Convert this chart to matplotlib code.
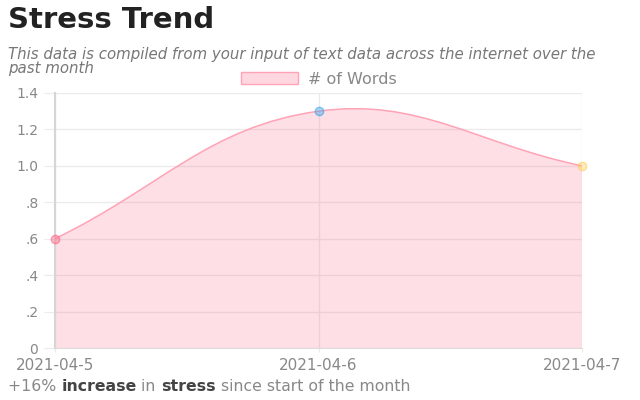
import numpy as np
import matplotlib
matplotlib.use("Agg")
import matplotlib.pyplot as plt
from matplotlib.path import Path
from matplotlib.patches import PathPatch, Patch
from matplotlib.colors import to_rgba

# chart data
dates = ["2021-04-5", "2021-04-6", "2021-04-7"]
words = [0.6, 1.3, 1.0]
point_colors = ["#ff6384", "#36a2eb", "#ffce56"]
y_ticks = [0, 0.2, 0.4, 0.6, 0.8, 1.0, 1.2, 1.4]
y_tick_labels = ["0", ".2", ".4", ".6", ".8", "1.0", "1.2", "1.4"]

title = "Stress Trend"
subtitle_lines = ["This data is compiled from your input of text data across the internet over the",
                  "past month"]
footer_parts = [("+16% ", "normal"), ("increase", "bold"), (" in ", "normal"),
                ("stress", "bold"), (" since start of the month", "normal")]

plt.rcParams["font.family"] = ["DejaVu Sans"]

fig = plt.figure(figsize=(6.4, 4.0), dpi=100)
ax = fig.add_axes([55 / 640, 52 / 400, 527 / 640, 255 / 400])

x = np.arange(len(words))
ax.set_xlim(0, len(words) - 1)
ax.set_ylim(0, 1.4)


def spline_controls(pts, tension=0.4):
    """Chart.js style cubic control points, computed in pixel space."""
    ctrl = []
    n = len(pts)
    for i in range(n):
        prev = pts[max(i - 1, 0)]
        cur = pts[i]
        nxt = pts[min(i + 1, n - 1)]
        d01 = np.hypot(*(cur - prev))
        d12 = np.hypot(*(nxt - cur))
        tot = d01 + d12
        s01 = d01 / tot if tot else 0
        s12 = d12 / tot if tot else 0
        ctrl.append((cur - tension * s01 * (nxt - prev),
                     cur + tension * s12 * (nxt - prev)))
    return ctrl


fig.canvas.draw()
pts_px = ax.transData.transform(np.column_stack([x, words]))
ctrl = spline_controls(pts_px)

verts = [pts_px[0]]
codes = [Path.MOVETO]
for i in range(len(pts_px) - 1):
    verts += [ctrl[i][1], ctrl[i + 1][0], pts_px[i + 1]]
    codes += [Path.CURVE4] * 3
verts_data = ax.transData.inverted().transform(np.array(verts))

line_path = Path(verts_data, codes)
fill_verts = list(verts_data) + [(x[-1], 0), (x[0], 0), verts_data[0]]
fill_codes = codes + [Path.LINETO, Path.LINETO, Path.CLOSEPOLY]
fill_path = Path(fill_verts, fill_codes)

ax.add_patch(PathPatch(fill_path, facecolor=(1, 99 / 255, 132 / 255, 0.2),
                       edgecolor="none", zorder=2))
ax.add_patch(PathPatch(line_path, facecolor="none", edgecolor="#ffa3b6",
                       linewidth=1.1, zorder=3))

for xi, yi, c in zip(x, words, point_colors):
    ax.scatter([xi], [yi], s=36, facecolor=to_rgba(c, 0.4),
               edgecolor=to_rgba(c, 0.6), linewidth=1,
               zorder=4, clip_on=False)

# axes styling
grid_c = "#ebebeb"
ax.set_yticks(y_ticks)
ax.set_yticklabels(y_tick_labels)
ax.set_xticks(x)
ax.set_xticklabels(dates)
ax.grid(True, color=grid_c, linewidth=1)
ax.set_axisbelow(True)
for side in ["top", "right"]:
    ax.spines[side].set_visible(False)
ax.spines["left"].set_color("#d6d6d6")
ax.spines["left"].set_linewidth(1.5)
ax.spines["bottom"].set_color("#dddddd")
ax.tick_params(axis="both", color=grid_c, labelcolor="#888888", length=8)
ax.tick_params(axis="x", labelsize=11, pad=4, length=3)
ax.tick_params(axis="y", labelsize=10, pad=4)

leg = ax.legend(handles=[Patch(facecolor=(1, 99 / 255, 132 / 255, 0.25),
                               edgecolor="#ffa3b6", label="# of Words")],
                loc="lower center", bbox_to_anchor=(0.5, 1.0), frameon=False,
                handlelength=3.6, handleheight=0.7, fontsize=11.5,
                borderaxespad=0.0, handletextpad=0.6)
for t in leg.get_texts():
    t.set_color("#888888")

fig.text(8 / 640, 1 - 20 / 400, title, fontsize=21, fontweight="bold",
         color="#222222", va="center", ha="left")
for i, line in enumerate(subtitle_lines):
    fig.text(8 / 640, 1 - (54 + 15 * i) / 400, line, fontsize=10.8,
             style="italic", color="#777777", va="center", ha="left")

# footer with bold words, chained one after another
prev = fig.text(8 / 640, 1 - 394 / 400, footer_parts[0][0], fontsize=11.3,
                fontweight=footer_parts[0][1], color="#888888",
                va="bottom", ha="left")
for txt, weight in footer_parts[1:]:
    color = "#444444" if weight == "bold" else "#888888"
    prev = ax.annotate(txt, xy=(1, 0), xycoords=prev, fontsize=11.3,
                       fontweight=weight, color=color, va="bottom", ha="left",
                       annotation_clip=False)

fig.savefig("out.png", dpi=100)
